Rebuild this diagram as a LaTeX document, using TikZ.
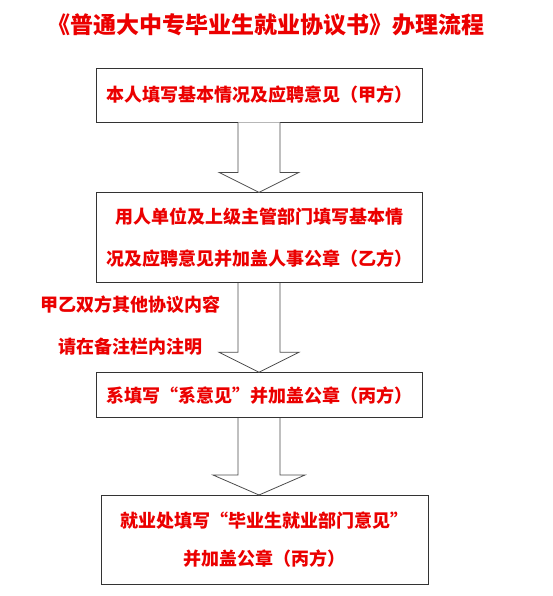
\documentclass[tikz,border=0pt]{standalone}
\usepackage{fontspec}
\newfontfamily\cjk{Noto Sans CJK SC}
\usetikzlibrary{positioning}
\definecolor{flowred}{RGB}{235,0,0}
\tikzset{
  stage/.style={draw=black!80, line width=0.8pt, minimum width=326pt, inner ysep=2pt,
    align=center, text=flowred, font=\cjk\bfseries\fontsize{18}{42}\selectfont},
  hollow/.style={draw=black!70, line width=0.8pt, fill=white}
}
% hollow block arrow: from, to, half width of the head
\newcommand{\hollowarrow}[3]{%
  \path (#1.south |- #2.north) coordinate (tip) ++(0,20) coordinate (neck);
  \draw[hollow] ([xshift=-21pt]#1.south) -- ([xshift=-21pt]neck) -- ([xshift=-#3]neck)
    -- (tip) -- ([xshift=#3]neck) -- ([xshift=21pt]neck) -- ([xshift=21pt]#1.south);}

\begin{document}
\begin{tikzpicture}[x=1pt, y=1pt]
  \useasboundingbox (0,0) rectangle (553,-596);
  \node[text=flowred, font=\cjk\bfseries\fontsize{23}{28}\selectfont] (title) at (265.5,-25)
    {《普通大中专毕业生就业协议书》办理流程};

  \node[stage, minimum height=54pt] (self) at (259,-95) {本人填写基本情况及应聘意见（甲方）};
  \node[stage, minimum height=90pt, below=70pt of self] (employer)
    {用人单位及上级主管部门填写基本情\\况及应聘意见并加盖人事公章（乙方）};
  \node[stage, minimum height=45pt, below=89pt of employer] (dept)
    {系填写“系意见”并加盖公章（丙方）};
  \node[stage, minimum height=89pt, minimum width=327pt, below=77pt of dept, xshift=5.5pt] (office)
    {就业处填写“毕业生就业部门意见”\\[-4pt]并加盖公章（丙方）};

  \node[text=flowred, align=center, font=\cjk\bfseries\fontsize{18}{42}\selectfont] (note) at (130,-326)
    {甲乙双方其他协议内容\\请在备注栏内注明};

  \hollowarrow{self}{employer}{40pt}
  \hollowarrow{employer}{dept}{40pt}
  \hollowarrow{dept}{office}{46pt}
\end{tikzpicture}
\end{document}
